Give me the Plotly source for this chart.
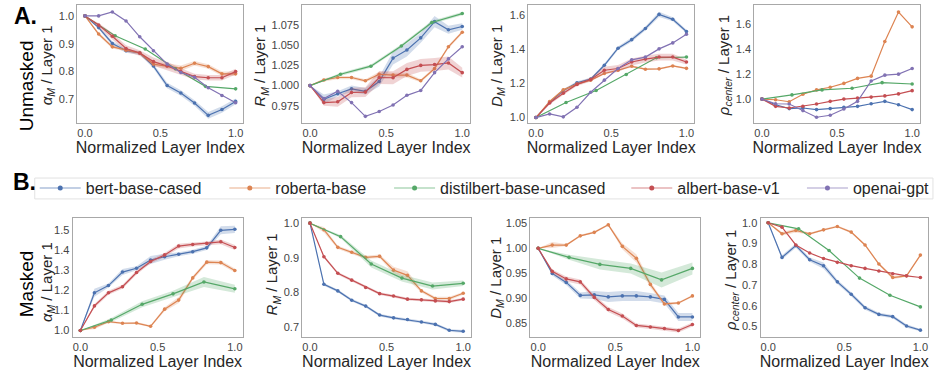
import plotly.graph_objects as go

W, H = 935, 371

# ---------------- data ----------------
X12 = [0.0, 0.0909, 0.1818, 0.2727, 0.3636, 0.4545, 0.5455, 0.6364, 0.7273, 0.8182, 0.9091, 1.0]
X6 = [0.0, 0.2, 0.4, 0.6, 0.8, 1.0]

MODELS = ["bert-base-cased", "roberta-base", "distilbert-base-uncased", "albert-base-v1", "openai-gpt"]
COLORS = ["#4C72B0", "#DD8452", "#55A868", "#C44E52", "#8172B3"]

# Unmasked alpha_M
ua_bert = [1.0, 0.958, 0.901, 0.875, 0.867, 0.82, 0.75, 0.723, 0.687, 0.643, 0.664, 0.693]
ua_roberta = [1.0, 0.935, 0.889, 0.877, 0.867, 0.827, 0.82, 0.812, 0.83, 0.818, 0.792, 0.792]
ua_distil = [1.0, 0.929, 0.881, 0.81, 0.747, 0.738]
ua_albert = [1.0, 0.967, 0.927, 0.883, 0.867, 0.836, 0.82, 0.8, 0.782, 0.778, 0.778, 0.8]
ua_gpt = [1.0, 1.0, 1.014, 0.982, 0.925, 0.875, 0.827, 0.797, 0.78, 0.742, 0.714, 0.688]
ua_bert_err = [0, 0.005, 0.008, 0.007, 0.006, 0.008, 0.01, 0.01, 0.01, 0.012, 0.012, 0.01]
ua_roberta_err = [0, 0.006, 0.006, 0.005, 0.005, 0.008, 0.01, 0.01, 0.008, 0.008, 0.008, 0.008]
ua_albert_err = [0, 0.008, 0.012, 0.012, 0.01, 0.015, 0.015, 0.012, 0.01, 0.01, 0.01, 0.01]

# Unmasked R_M
ur_bert = [1.0, 0.983, 0.990, 0.996, 0.993, 1.005, 1.034, 1.044, 1.059, 1.079, 1.069, 1.073]
ur_roberta = [1.0, 1.007, 1.010, 1.010, 1.006, 1.014, 1.013, 1.013, 1.006, 1.021, 1.048, 1.066]
ur_distil = [1.0, 1.014, 1.024, 1.049, 1.078, 1.089]
ur_albert = [1.0, 0.979, 0.980, 0.9915, 0.992, 1.010, 1.0097, 1.020, 1.025, 1.026, 1.028, 1.016]
ur_gpt = [1.0, 0.984, 0.993, 0.979, 0.962, 0.968, 0.976, 0.988, 0.994, 1.016, 1.033, 1.048]
ur_bert_err = [0, 0.006, 0.003, 0.004, 0.004, 0.006, 0.008, 0.008, 0.006, 0.007, 0.005, 0.004]
ur_roberta_err = [0, 0.002, 0.002, 0.002, 0.002, 0.003, 0.003, 0.003, 0.002, 0.002, 0.002, 0.002]
ur_distil_err = [0, 0.002, 0.002, 0.002, 0.002, 0.002]
ur_albert_err = [0, 0.004, 0.006, 0.006, 0.006, 0.008, 0.008, 0.008, 0.008, 0.008, 0.008, 0.006]

# Unmasked D_M
ud_bert = [1.0, 1.088, 1.158, 1.204, 1.225, 1.306, 1.406, 1.456, 1.521, 1.604, 1.575, 1.504]
ud_roberta = [1.0, 1.094, 1.162, 1.196, 1.219, 1.258, 1.277, 1.3, 1.283, 1.285, 1.302, 1.288]
ud_distil = [1.0, 1.088, 1.158, 1.252, 1.35, 1.354]
ud_albert = [1.0, 1.085, 1.142, 1.194, 1.223, 1.277, 1.287, 1.325, 1.342, 1.354, 1.354, 1.325]
ud_gpt = [1.0, 1.021, 1.004, 1.06, 1.148, 1.219, 1.287, 1.338, 1.354, 1.402, 1.437, 1.488]
ud_bert_err = [0, 0.005, 0.008, 0.008, 0.008, 0.01, 0.01, 0.012, 0.012, 0.015, 0.012, 0.01]
ud_roberta_err = [0, 0.005, 0.006, 0.006, 0.006, 0.006, 0.006, 0.006, 0.005, 0.005, 0.005, 0.005]
ud_albert_err = [0, 0.008, 0.01, 0.01, 0.012, 0.02, 0.02, 0.02, 0.02, 0.02, 0.02, 0.015]

# Unmasked rho_center
up_bert = [1.0, 0.955, 0.924, 0.929, 0.916, 0.924, 0.934, 0.942, 0.963, 0.982, 0.955, 0.916]
up_roberta = [1.0, 0.995, 0.979, 1.039, 1.074, 1.095, 1.126, 1.166, 1.184, 1.461, 1.697, 1.579]
up_distil = [1.0, 1.034, 1.074, 1.087, 1.132, 1.121]
up_albert = [1.0, 0.942, 0.929, 0.942, 0.961, 0.982, 1.0, 1.008, 1.016, 1.026, 1.042, 1.068]
up_gpt = [1.0, 0.963, 0.961, 0.908, 0.855, 0.871, 0.921, 0.982, 1.145, 1.192, 1.2, 1.245]

# Masked alpha_M
ma_bert = [1.0, 1.187, 1.223, 1.29, 1.309, 1.35, 1.366, 1.378, 1.391, 1.41, 1.497, 1.502]
ma_roberta = [1.0, 1.016, 1.044, 1.036, 1.037, 1.021, 1.106, 1.151, 1.261, 1.339, 1.337, 1.298]
ma_distil = [1.0, 1.052, 1.13, 1.182, 1.241, 1.207]
ma_albert = [1.0, 1.122, 1.187, 1.217, 1.288, 1.342, 1.375, 1.419, 1.427, 1.432, 1.44, 1.412]
ma_bert_err = [0, 0.02, 0.01, 0.015, 0.01, 0.02, 0.015, 0.01, 0.01, 0.01, 0.02, 0.018]
ma_roberta_err = [0, 0.01, 0.005, 0.005, 0.005, 0.005, 0.01, 0.015, 0.01, 0.01, 0.01, 0.01]
ma_distil_err = [0, 0.01, 0.015, 0.015, 0.025, 0.02]
ma_albert_err = [0, 0.01, 0.01, 0.01, 0.01, 0.01, 0.01, 0.012, 0.01, 0.01, 0.012, 0.012]

# Masked R_M
mr_bert = [1.0, 0.823, 0.804, 0.777, 0.76, 0.734, 0.726, 0.721, 0.714, 0.707, 0.69, 0.687]
mr_roberta = [1.0, 0.981, 0.93, 0.916, 0.901, 0.904, 0.864, 0.849, 0.804, 0.782, 0.782, 0.797]
mr_distil = [1.0, 0.961, 0.882, 0.841, 0.818, 0.826]
mr_albert = [1.0, 0.903, 0.855, 0.835, 0.814, 0.796, 0.789, 0.78, 0.778, 0.775, 0.773, 0.78]
mr_bert_err = [0, 0.004, 0.004, 0.004, 0.004, 0.004, 0.004, 0.004, 0.004, 0.004, 0.004, 0.004]
mr_roberta_err = [0, 0.008, 0.005, 0.005, 0.005, 0.005, 0.01, 0.012, 0.005, 0.005, 0.005, 0.004]
mr_distil_err = [0, 0.005, 0.01, 0.01, 0.01, 0.008]
mr_albert_err = [0, 0.004, 0.004, 0.004, 0.004, 0.004, 0.004, 0.004, 0.004, 0.004, 0.004, 0.004]

# Masked D_M
md_bert = [1.0, 0.95, 0.932, 0.906, 0.907, 0.903, 0.905, 0.905, 0.903, 0.898, 0.863, 0.863]
md_roberta = [1.0, 1.0065, 1.0065, 1.025, 1.032, 1.047, 1.004, 0.98, 0.928, 0.889, 0.891, 0.905]
md_distil = [1.0, 0.982, 0.968, 0.96, 0.937, 0.96]
md_albert = [1.0, 0.954, 0.939, 0.933, 0.902, 0.878, 0.865, 0.846, 0.843, 0.84, 0.836, 0.848]
md_bert_err = [0, 0.004, 0.005, 0.006, 0.008, 0.01, 0.01, 0.01, 0.008, 0.008, 0.008, 0.008]
md_roberta_err = [0, 0.006, 0.002, 0.002, 0.002, 0.002, 0.006, 0.008, 0.006, 0.003, 0.002, 0.002]
md_distil_err = [0, 0.005, 0.01, 0.01, 0.015, 0.012]
md_albert_err = [0, 0.004, 0.005, 0.005, 0.005, 0.005, 0.005, 0.004, 0.004, 0.004, 0.004, 0.004]

# Masked rho_center
mp_bert = [1.0, 0.833, 0.89, 0.822, 0.793, 0.715, 0.655, 0.59, 0.558, 0.547, 0.502, 0.482]
mp_roberta = [1.0, 0.947, 0.963, 0.947, 0.966, 0.982, 0.955, 0.893, 0.801, 0.736, 0.744, 0.844]
mp_distil = [1.0, 0.971, 0.866, 0.733, 0.65, 0.594]
mp_albert = [1.0, 0.979, 0.893, 0.854, 0.828, 0.809, 0.793, 0.78, 0.767, 0.754, 0.744, 0.736]
mp_bert_err = [0, 0.01, 0.01, 0.01, 0.015, 0.01, 0.01, 0.01, 0.008, 0.008, 0.008, 0.006]
mp_roberta_err = [0, 0.008, 0.01, 0.005, 0.005, 0.005, 0.005, 0.005, 0.005, 0.008, 0.005, 0.005]

# y-axis tick values
A1_TICKS = [0.7, 0.8, 0.9, 1.0]
A2_TICKS = [0.975, 1.000, 1.025, 1.050, 1.075]
A3_TICKS = [1.0, 1.2, 1.4, 1.6]
A4_TICKS = [1.0, 1.2, 1.4, 1.6]
B1_TICKS = [1.0, 1.1, 1.2, 1.3, 1.4, 1.5]
B2_TICKS = [0.7, 0.8, 0.9, 1.0]
B3_TICKS = [0.85, 0.90, 0.95, 1.00, 1.05]
B4_TICKS = [0.5, 0.6, 0.7, 0.8, 0.9, 1.0]
X_TICKS = [0.0, 0.5, 1.0]

# ---------------- figure ----------------
FONT = "Liberation Sans, Arial, sans-serif"
fig = go.Figure()


def rgba(hexc, a):
    h = hexc.lstrip("#")
    return "rgba(%d,%d,%d,%.2f)" % (int(h[0:2], 16), int(h[2:4], 16), int(h[4:6], 16), a)


def add_series(ax, xs, ys, color, err=None):
    xa = "x" if ax == 1 else "x%d" % ax
    ya = "y" if ax == 1 else "y%d" % ax
    if err is not None:
        up = [y + e for y, e in zip(ys, err)]
        lo = [y - e for y, e in zip(ys, err)]
        fig.add_trace(go.Scatter(x=xs, y=up, xaxis=xa, yaxis=ya, mode="lines",
                                 line=dict(width=0, color=color), showlegend=False,
                                 hoverinfo="skip"))
        fig.add_trace(go.Scatter(x=xs, y=lo, xaxis=xa, yaxis=ya, mode="lines",
                                 line=dict(width=0, color=color), fill="tonexty",
                                 fillcolor=rgba(color, 0.25), showlegend=False,
                                 hoverinfo="skip"))
    fig.add_trace(go.Scatter(x=xs, y=ys, xaxis=xa, yaxis=ya, mode="lines+markers",
                             line=dict(width=1.2, color=color),
                             marker=dict(size=3.6, color=color), showlegend=False))


B, R, G, A, P = COLORS

panels = {
    1: [(X12, ua_bert, B, ua_bert_err), (X12, ua_roberta, R, ua_roberta_err), (X6, ua_distil, G, None),
        (X12, ua_albert, A, ua_albert_err), (X12, ua_gpt, P, None)],
    2: [(X12, ur_bert, B, ur_bert_err), (X12, ur_roberta, R, ur_roberta_err), (X6, ur_distil, G, ur_distil_err),
        (X12, ur_albert, A, ur_albert_err), (X12, ur_gpt, P, None)],
    3: [(X12, ud_bert, B, ud_bert_err), (X12, ud_roberta, R, ud_roberta_err), (X6, ud_distil, G, None),
        (X12, ud_albert, A, ud_albert_err), (X12, ud_gpt, P, None)],
    4: [(X12, up_bert, B, None), (X12, up_roberta, R, None), (X6, up_distil, G, None),
        (X12, up_albert, A, None), (X12, up_gpt, P, None)],
    5: [(X12, ma_bert, B, ma_bert_err), (X12, ma_roberta, R, ma_roberta_err), (X6, ma_distil, G, ma_distil_err),
        (X12, ma_albert, A, ma_albert_err)],
    6: [(X12, mr_bert, B, mr_bert_err), (X12, mr_roberta, R, mr_roberta_err), (X6, mr_distil, G, mr_distil_err),
        (X12, mr_albert, A, mr_albert_err)],
    7: [(X12, md_bert, B, md_bert_err), (X12, md_roberta, R, md_roberta_err), (X6, md_distil, G, md_distil_err),
        (X12, md_albert, A, md_albert_err)],
    8: [(X12, mp_bert, B, mp_bert_err), (X12, mp_roberta, R, mp_roberta_err), (X6, mp_distil, G, None),
        (X12, mp_albert, A, None)],
}
for ax, series in panels.items():
    for xs, ys, c, e in series:
        add_series(ax, xs, ys, c, e)

# legend entries (one legend per entry, placed like the reference)
LEG_X = [40, 231, 397, 636, 813]
for i, (name, c) in enumerate(zip(MODELS, COLORS)):
    key = "legend" if i == 0 else "legend%d" % (i + 1)
    fig.add_trace(go.Scatter(x=[None], y=[None], mode="lines+markers", name=name,
                             line=dict(width=1.5, color=rgba(c, 0.45)),
                             marker=dict(size=5, color=c), showlegend=True, legend=key))

# ---------------- axes ----------------
def px_x(v):
    return v / W


def px_y(v):
    return 1 - v / H


XDOM = {1: (78, 245), 2: (304.7, 473.4), 3: (532.4, 699.2), 4: (760.1, 926.6),
        5: (73.2, 244.4), 6: (304.6, 474.4), 7: (534.5, 705.4), 8: (766.3, 935)}
YDOM_A = (122.5, 4.5)
YDOM_B = (338, 218)
YR = {1: [0.616, 1.0375], 2: [0.954, 1.099], 3: [0.969, 1.656], 4: [0.81, 1.75],
      5: [0.967, 1.559], 6: [0.67, 1.0155], 7: [0.8226, 1.061], 8: [0.448, 1.024]}
YT = {1: A1_TICKS, 2: A2_TICKS, 3: A3_TICKS, 4: A4_TICKS,
      5: B1_TICKS, 6: B2_TICKS, 7: B3_TICKS, 8: B4_TICKS}
YFMT = {1: ".1f", 2: ".3f", 3: ".1f", 4: ".1f", 5: ".1f", 6: ".1f", 7: ".2f", 8: ".1f"}
YTITLE = {
    1: "<i>α</i><sub><i>M</i></sub> / Layer 1",
    2: "<i>R</i><sub><i>M</i></sub> / Layer 1",
    3: "<i>D</i><sub><i>M</i></sub> / Layer 1",
    4: "<i>ρ</i><sub><i>center</i></sub> / Layer 1",
    5: "<i>α</i><sub><i>M</i></sub> / Layer 1",
    6: "<i>R</i><sub><i>M</i></sub> / Layer 1",
    7: "<i>D</i><sub><i>M</i></sub> / Layer 1",
    8: "<i>ρ</i><sub><i>center</i></sub> / Layer 1",
}
# pixel centres of the rotated y-axis titles (x, y)
YTITLE_POS = {1: (48, 65), 2: (263, 65), 3: (501, 65), 4: (730, 65),
              5: (48, 283), 6: (275, 275), 7: (500, 278), 8: (737, 281)}

layout = {}
annotations = []
for ax in range(1, 9):
    xk = "xaxis" if ax == 1 else "xaxis%d" % ax
    yk = "yaxis" if ax == 1 else "yaxis%d" % ax
    yd = YDOM_A if ax <= 4 else YDOM_B
    layout[xk] = dict(domain=[px_x(XDOM[ax][0]), px_x(XDOM[ax][1])],
                      anchor="y" if ax == 1 else "y%d" % ax,
                      range=[-0.05, 1.05], tickvals=X_TICKS, tickformat=".1f",
                      showgrid=False, zeroline=False, showline=True, mirror=True,
                      linecolor="#a8a8a8", linewidth=1.2, ticks="",
                      tickfont=dict(size=11, color="#444444", family=FONT),
                      title=dict(text="Normalized Layer Index", standoff=0,
                                 font=dict(size=16, color="#262626", family=FONT)))
    layout[yk] = dict(domain=[px_y(yd[0]), px_y(yd[1])],
                      anchor="x" if ax == 1 else "x%d" % ax,
                      range=YR[ax], tickvals=YT[ax], tickformat=YFMT[ax],
                      showgrid=False, zeroline=False, showline=True, mirror=True,
                      linecolor="#a8a8a8", linewidth=1.2, ticks="",
                      tickfont=dict(size=11, color="#444444", family=FONT))
    tx, ty = YTITLE_POS[ax]
    annotations.append(dict(text=YTITLE[ax], x=px_x(tx), y=px_y(ty), xref="paper", yref="paper",
                            xanchor="center", yanchor="middle", showarrow=False, textangle=-90,
                            font=dict(size=15, color="#262626", family=FONT)))

for i in range(5):
    key = "legend" if i == 0 else "legend%d" % (i + 1)
    layout[key] = dict(x=px_x(LEG_X[i] - 5), xanchor="left", y=px_y(188), yanchor="middle",
                       orientation="h", bgcolor="rgba(0,0,0,0)", borderwidth=0,
                       font=dict(size=16, color="#262626", family=FONT),
                       itemwidth=41, tracegroupgap=0)

fig.update_layout(**layout)

annotations += [
    dict(text="<b>A.</b>", x=px_x(12), y=px_y(15), xref="paper", yref="paper",
         xanchor="left", yanchor="middle", showarrow=False,
         font=dict(size=23, color="black", family=FONT)),
    dict(text="<b>B.</b>", x=px_x(11), y=px_y(182), xref="paper", yref="paper",
         xanchor="left", yanchor="middle", showarrow=False,
         font=dict(size=23, color="black", family=FONT)),
    dict(text="Unmasked", x=px_x(27), y=px_y(85), xref="paper", yref="paper",
         xanchor="center", yanchor="middle", showarrow=False, textangle=-90,
         font=dict(size=19, color="black", family=FONT)),
    dict(text="Masked", x=px_x(27), y=px_y(284), xref="paper", yref="paper",
         xanchor="center", yanchor="middle", showarrow=False, textangle=-90,
         font=dict(size=19, color="black", family=FONT)),
]

fig.update_layout(
    width=W, height=H, margin=dict(l=0, r=0, t=0, b=0),
    paper_bgcolor="white", plot_bgcolor="white",
    font=dict(family=FONT),
    shapes=[dict(type="rect", xref="paper", yref="paper",
                 x0=px_x(35), x1=px_x(940), y0=px_y(199), y1=px_y(178),
                 line=dict(color="#e2e2e2", width=1), fillcolor="rgba(0,0,0,0)", layer="below")],
    annotations=annotations,
)

fig.write_html("out.html")
